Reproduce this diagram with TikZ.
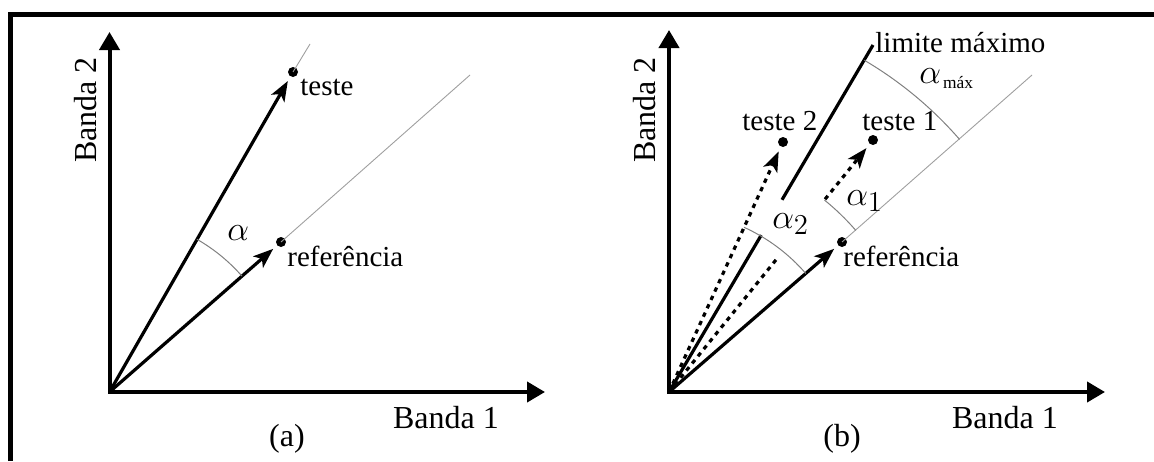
\documentclass[tikz,border=0pt]{standalone}
\usepackage{fontspec}
\setmainfont{Liberation Serif}
\usetikzlibrary{arrows.meta,calc}
\begin{document}
\begin{tikzpicture}[x=0.5pt,y=-0.5pt,
  axis/.style={line width=2pt,line join=miter,{Triangle[length=9pt,width=10pt]}-{Triangle[length=9pt,width=10pt]}},
  vline/.style={line width=1.6pt},
  vec/.style={vline,-{Stealth[length=10pt,width=7.5pt,inset=2.5pt]},shorten >=2.5pt},
  dline/.style={vline,dash pattern=on 2.2pt off 2.4pt},
  dvec/.style={vec,dash pattern=on 2.2pt off 2.4pt},
  thinline/.style={line width=0.45pt,gray!75},
  angarc/.style={line width=0.5pt,gray},
  dot/.style={circle,fill=black,inner sep=0pt,minimum size=5pt},
  lbl/.style={font=\fontsize{14.5}{17}\selectfont,inner sep=0pt},
  axlbl/.style={font=\fontsize{16}{19}\selectfont,inner sep=0pt},
  glbl/.style={font=\fontsize{19}{22}\selectfont,inner sep=0pt},
  frame/.style={line width=2.5pt,line join=miter}]
\useasboundingbox (0,0) rectangle (1154,461);
% frame
\coordinate (fA) at (10.5,461);
\coordinate (fB) at (10.5,14.5);
\coordinate (fC) at (1154,14.5);
\draw[frame] (fA) -- (fB) -- (fC);

% ---------- panel (a) ----------
\coordinate (Oa) at (109.5,392);
\coordinate (Ya) at (109.5,32);
\coordinate (Xa) at (545,392);
\draw[axis] (Ya) -- (Oa) -- (Xa);
\node[dot] (Ta) at (293,72) {};
\node[dot] (Ra) at (281,242) {};
\coordinate (TaE) at (310,44);
\coordinate (RaE) at (470,75);
\draw[thinline] (Ta.center) -- (TaE);
\draw[thinline] (Ra.center) -- (RaE);
\draw[vec] (Oa) -- (Ta);
\draw[vec] (Oa) -- (Ra);
\draw[angarc] (Oa) ++(41.2:88pt) arc[start angle=41.2,end angle=60.2,radius=88pt];
\node[glbl,anchor=base west] (alA) at (227,240) {$\alpha$};
\node[lbl,anchor=base west] (tA) at (300,95) {teste};
\node[lbl,anchor=base west] (rA) at (287,266) {referência};
\node[axlbl,anchor=base] (b1A) at (446,428) {Banda 1};
\node[axlbl,anchor=base,rotate=90] (b2A) at (96,110) {Banda 2};
\node[axlbl,anchor=base] (capA) at (287,446) {(a)};

% ---------- panel (b) ----------
\coordinate (Ob) at (669,392);
\coordinate (Yb) at (669,30);
\coordinate (Xb) at (1105,392);
\draw[axis] (Yb) -- (Ob) -- (Xb);
\node[dot] (Rb) at (842,242) {};
\node[dot] (T1) at (873,140) {};
\node[dot] (T2) at (783,142) {};
\coordinate (Lb) at (873,45);
\coordinate (RbE) at (1032,75);
\draw[thinline] (Rb.center) -- (RbE);
\draw[vec] (Ob) -- (Rb);
\draw[dvec] (Ob) -- (T2);
\draw[dline] (Ob) -- ($(Ob)!85pt!(T1)$);
\draw[dvec] ($(Ob)!124pt!(T1)$) -- (T1);
\draw[vline] (Ob) -- ($(Ob)!91pt!(Lb)$);
\draw[vline] ($(Ob)!111.5pt!(Lb)$) -- (Lb);
\draw[angarc] (Ob) ++(40.9:123.5pt) arc[start angle=40.9,end angle=51,radius=123.5pt];
\draw[angarc] (Ob) ++(40.9:90.5pt) arc[start angle=40.9,end angle=65.5,radius=90.5pt];
\draw[angarc] (Ob) ++(41:192.5pt) arc[start angle=41,end angle=59.5,radius=192.5pt];
\node[glbl,anchor=base west] (al1) at (846,205) {$\alpha_1$};
\node[glbl,anchor=base west] (al2) at (772,228) {$\alpha_2$};
\node[glbl,anchor=base west] (alm) at (919,83) {$\alpha$\hspace{1pt}\raisebox{-2.5pt}{\fontsize{8.7}{10}\selectfont máx}};
\node[lbl,anchor=base west] (t1) at (862,130) {teste 1};
\node[lbl,anchor=base west] (t2) at (742,130) {teste 2};
\node[lbl,anchor=base west] (lim) at (875,52) {limite máximo};
\node[lbl,anchor=base west] (rB) at (843,266) {referência};
\node[axlbl,anchor=base] (b1B) at (1005,428) {Banda 1};
\node[axlbl,anchor=base,rotate=90] (b2B) at (655,110) {Banda 2};
\node[axlbl,anchor=base] (capB) at (842,446) {(b)};
\end{tikzpicture}
\end{document}
